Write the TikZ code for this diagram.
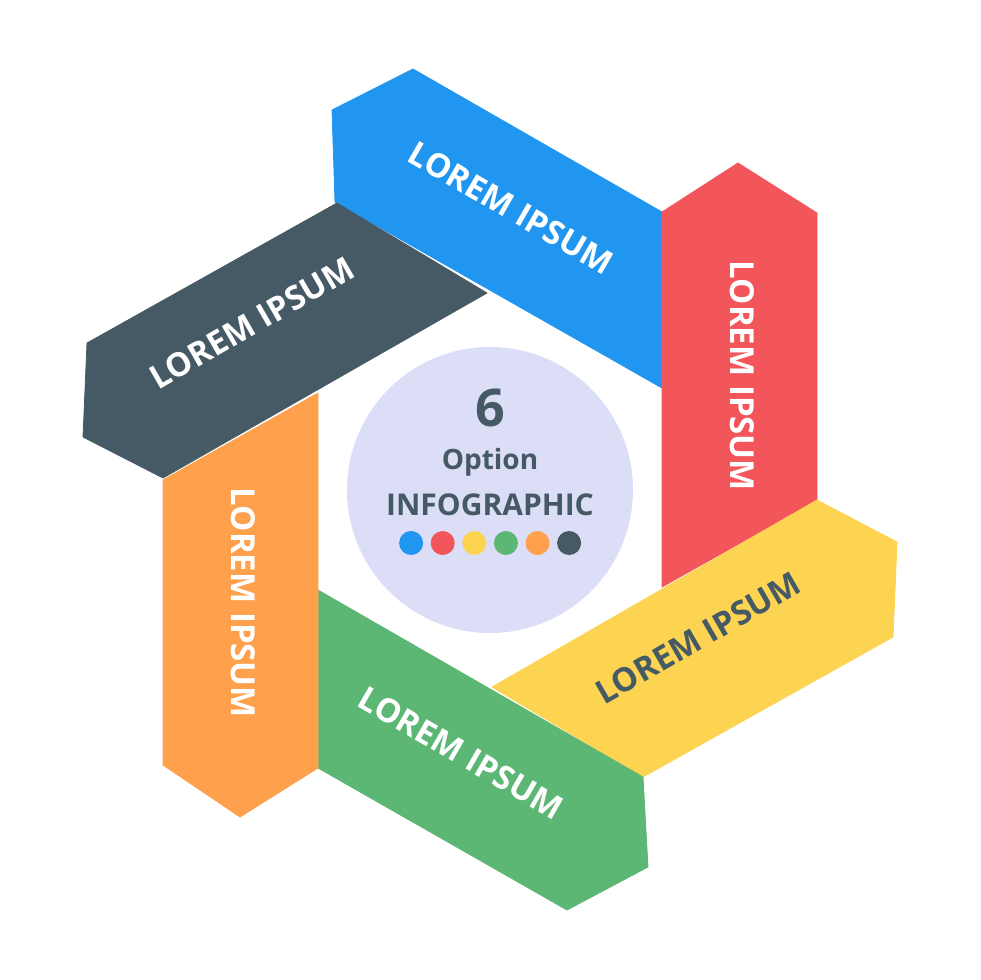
\documentclass[tikz,border=0pt]{standalone}
\usepackage{fontspec}
\setmainfont{Open Sans}
\usepackage{xcolor}
\definecolor{colBlue}{HTML}{2196F0}
\definecolor{colRed}{HTML}{F2555A}
\definecolor{colYellow}{HTML}{FDD352}
\definecolor{colGreen}{HTML}{5CB674}
\definecolor{colOrange}{HTML}{FFA04C}
\definecolor{colDark}{HTML}{455A64}
\definecolor{colHub}{HTML}{DCDEF8}
\usetikzlibrary{positioning}

\tikzset{
  band/.style={fill=#1, draw=#1, line width=0.8pt, line join=round},
  bandtext/.style={font=\bfseries\fontsize{33}{33}\selectfont, text=white, inner sep=0pt},
  hubtext/.style={text=colDark, inner sep=0pt},
}

\begin{document}
\begin{tikzpicture}[x=1pt, y=-1pt]
  \useasboundingbox (0,0) rectangle (980,980);
  % six bands of the wheel
  \path[band=colBlue]   (413,69) -- (332,110) -- (335,202) -- (662,388) -- (662,212) -- cycle;
  \path[band=colRed]    (662,212) -- (738,163) -- (817,213) -- (817,500) -- (662,587) -- cycle;
  \path[band=colYellow] (492,687) -- (817,500) -- (897,542) -- (893,637) -- (643,777) -- cycle;
  \path[band=colGreen]  (318,590) -- (643,777) -- (648,867) -- (567,910) -- (318,768) -- cycle;
  \path[band=colOrange] (163,480) -- (318,393) -- (318,768) -- (240,817) -- (163,765) -- cycle;
  \path[band=colDark]   (337,203) -- (487,293) -- (163,478) -- (83,437) -- (87,343) -- cycle;
  % labels on the bands
  \node[bandtext, rotate=-30] (lblBlue) at (511,208) {LOREM IPSUM};
  \node[bandtext, rotate=-90] (lblRed) at (742,376) {LOREM IPSUM};
  \node[bandtext, rotate=30, text=colDark] (lblYellow) at (698,638) {LOREM IPSUM};
  \node[bandtext, rotate=-30] (lblGreen) at (461,753) {LOREM IPSUM};
  \node[bandtext, rotate=-90] (lblOrange) at (243,603) {LOREM IPSUM};
  \node[bandtext, rotate=30] (lblDark) at (252,323) {LOREM IPSUM};
  % centre disc
  \node[circle, fill=colHub, minimum size=286pt, inner sep=0pt] (hub) at (490,490) {};
  \node[hubtext, font=\bfseries\fontsize{52}{52}\selectfont] (num) at (490,408) {6};
  \node[hubtext, font=\bfseries\fontsize{28}{28}\selectfont] (opt) at (490,462) {Option};
  \node[hubtext, font=\bfseries\fontsize{30}{30}\selectfont] (info) at (490,505) {INFOGRAPHIC};
  \foreach \c [count=\i] in {colBlue,colRed,colYellow,colGreen,colOrange,colDark}
    \fill[\c] (379.5+31.6*\i,543) circle (12);
\end{tikzpicture}
\end{document}
